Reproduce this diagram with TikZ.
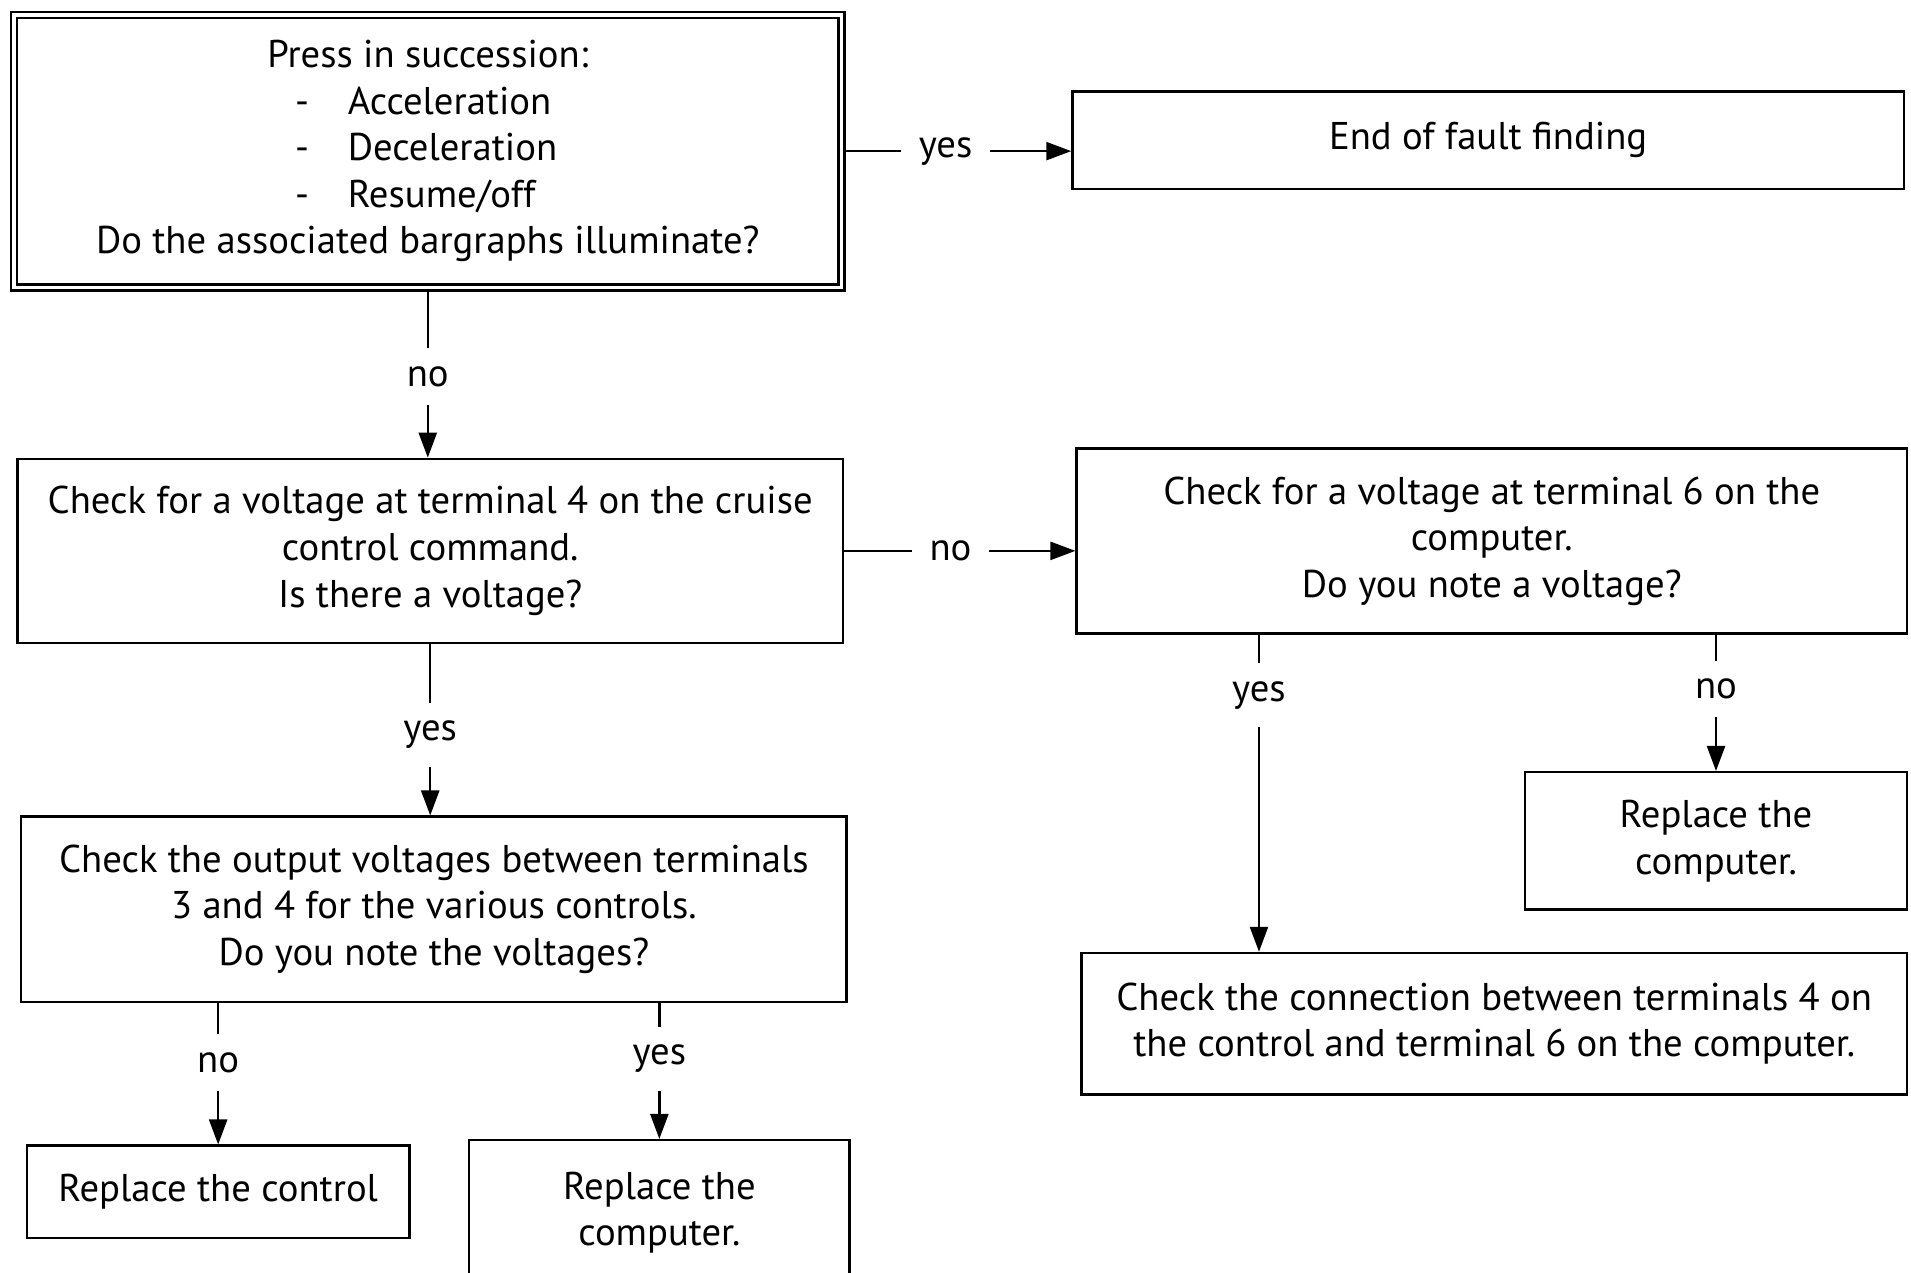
\documentclass[tikz,border=0pt]{standalone}
\usepackage{fontspec}
\setmainfont{PT Sans}
\usetikzlibrary{arrows.meta,positioning}
\tikzset{
  >={Triangle[length=5mm,width=3.6mm]},
  box/.style={draw,line width=1.4pt,align=center,inner sep=0pt,
    font=\fontsize{22}{26.5}\selectfont},
  flow/.style={->,line width=1.4pt},
  lbl/.style={fill=white,inner xsep=0.36cm,inner ysep=0.36cm,
    font=\fontsize{22}{26}\selectfont},
}

\begin{document}
\begin{tikzpicture}[x=0.024375cm,y=-0.024375cm]
  \useasboundingbox (0,0) rectangle (1568,1044);

  % question boxes
  \node[box,double,double distance=2pt,minimum width=16.55cm,minimum height=5.45cm] (press) at (351,124)
    {Press in succession:\\
     \makebox[5.3cm][l]{-\hspace{1.0em}Acceleration}\\
     \makebox[5.3cm][l]{-\hspace{1.0em}Deceleration}\\
     \makebox[5.3cm][l]{-\hspace{1.0em}Resume/off}\\
     Do the associated bargraphs illuminate?};
  \node[box,minimum width=16.62cm,minimum height=1.95cm] (fin) at (1221,115) {End of fault finding};
  \node[box,minimum width=16.50cm,minimum height=3.68cm] (cmd) at (353,452)
    {Check for a voltage at terminal 4 on the cruise\\ control command.\\ Is there a voltage?};
  \node[box,minimum width=16.60cm,minimum height=3.70cm] (comp) at (1224,444)
    {Check for a voltage at terminal 6 on the\\ computer.\\ Do you note a voltage?};
  \node[box,minimum width=16.50cm,minimum height=3.70cm] (outv) at (356,746)
    {Check the output voltages between terminals\\ 3 and 4 for the various controls.\\ Do you note the voltages?};

  % actions
  \node[box,minimum width=7.65cm,minimum height=1.85cm] (rctl) at (179,978) {Replace the control};
  \node[box,minimum width=7.61cm,minimum height=2.90cm] (rcmpa) at (541,995) {Replace the\\ computer.};
  \node[box,minimum width=7.63cm,minimum height=2.75cm] (rcmpb) at (1408,690) {Replace the\\ computer.};
  \node[box,minimum width=16.50cm,minimum height=2.83cm] (wire) at (1226,840)
    {Check the connection between terminals 4 on\\ the control and terminal 6 on the computer.};
  \coordinate (tap) at (1033,0);

  % connectors
  \draw[flow] (press.east) -- node[lbl,pos=0.45]{yes} (press.east -| fin.west);
  \draw[flow] (press.south) -- node[lbl,pos=0.52]{no} (press.south |- cmd.north);
  \draw[flow] (cmd.east) -- node[lbl,pos=0.46]{no} (cmd.east -| comp.west);
  \draw[flow] (cmd.south) -- node[lbl,pos=0.53]{yes} (cmd.south |- outv.north);
  \draw[flow] (rctl.north |- outv.south) -- node[lbl,pos=0.42]{no} (rctl.north);
  \draw[flow] (rcmpa.north |- outv.south) -- node[lbl,pos=0.41]{yes} (rcmpa.north);
  \draw[flow] (tap |- comp.south) -- node[lbl,pos=0.19]{yes} (tap |- wire.north);
  \draw[flow] (rcmpb.north |- comp.south) -- node[lbl,pos=0.40]{no} (rcmpb.north);
\end{tikzpicture}
\end{document}
